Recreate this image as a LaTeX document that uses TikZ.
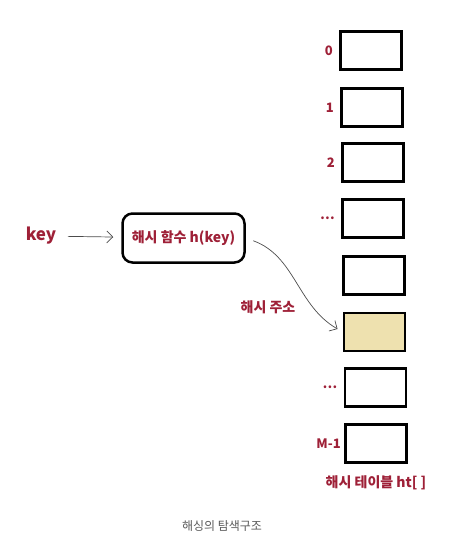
\documentclass[tikz,border=0pt]{standalone}
\usepackage{fontspec}
\setmainfont{Noto Sans CJK KR}
\usetikzlibrary{positioning,arrows.meta}
\definecolor{hashred}{RGB}{158,32,55}
\definecolor{hitfill}{RGB}{238,225,175}

\begin{document}
\begin{tikzpicture}[x=1pt,y=1pt,
    slot/.style = {draw, line width=2.5pt, minimum width=61pt, minimum height=38pt},
    idx/.style = {text=hashred, font=\bfseries\fontsize{13}{15}\selectfont},
    hfunc/.style = {draw, line width=2.5pt, rounded corners=10pt,
      minimum width=122pt, minimum height=49pt,
      text=hashred, font=\bfseries\fontsize{14}{16}\selectfont},
    link/.style = {-{Straight Barb[length=6pt, width=12pt]}, line width=0.7pt, black!70}]
    \useasboundingbox (0,0) rectangle (467,-549);
    % hash table slots
    \foreach \i/\x/\y/\t in {0/371/50.5/0, 1/372/107.5/1, 2/373/162.5/2,
        3/373/218.5/{\ldots}, 6/375.5/387.5/{\ldots}}
      \node[slot, label={[idx, label distance=3pt]left:\t}] (s\i) at (\x,-\y) {};
    \node[slot, label={[idx]left:M-1}] (s7) at (376,-443.5) {};
    \node[slot] (s4) at (374,-275.5) {};
    \node[slot, fill=hitfill] (s5) at (374.5,-332) {};
    \node[idx, font=\bfseries\fontsize{14}{16}\selectfont, below=8pt of s7] (tbl) {해시 테이블 ht[ ]};
    % key and hash function
    \node[text=hashred, font=\bfseries\fontsize{17}{19}\selectfont] (key) at (41,-236) {key};
    \node[hfunc] (hf) at (183.5,-238) {해시 함수 h(key)};
    \draw[link, shorten <=8pt, shorten >=8pt] (key) -- (hf);
    \draw[link, shorten <=8pt, shorten >=6pt] (hf.east) to[out=-20, in=150] (s5.west);
    \node[idx, font=\bfseries\fontsize{14}{16}\selectfont] (addr) at (268,-307) {해시 주소};
    % caption
    \node[text=black!65, font=\fontsize{12}{14}\selectfont] (cap) at (222,-526) {해싱의 탐색구조};
\end{tikzpicture}
\end{document}
